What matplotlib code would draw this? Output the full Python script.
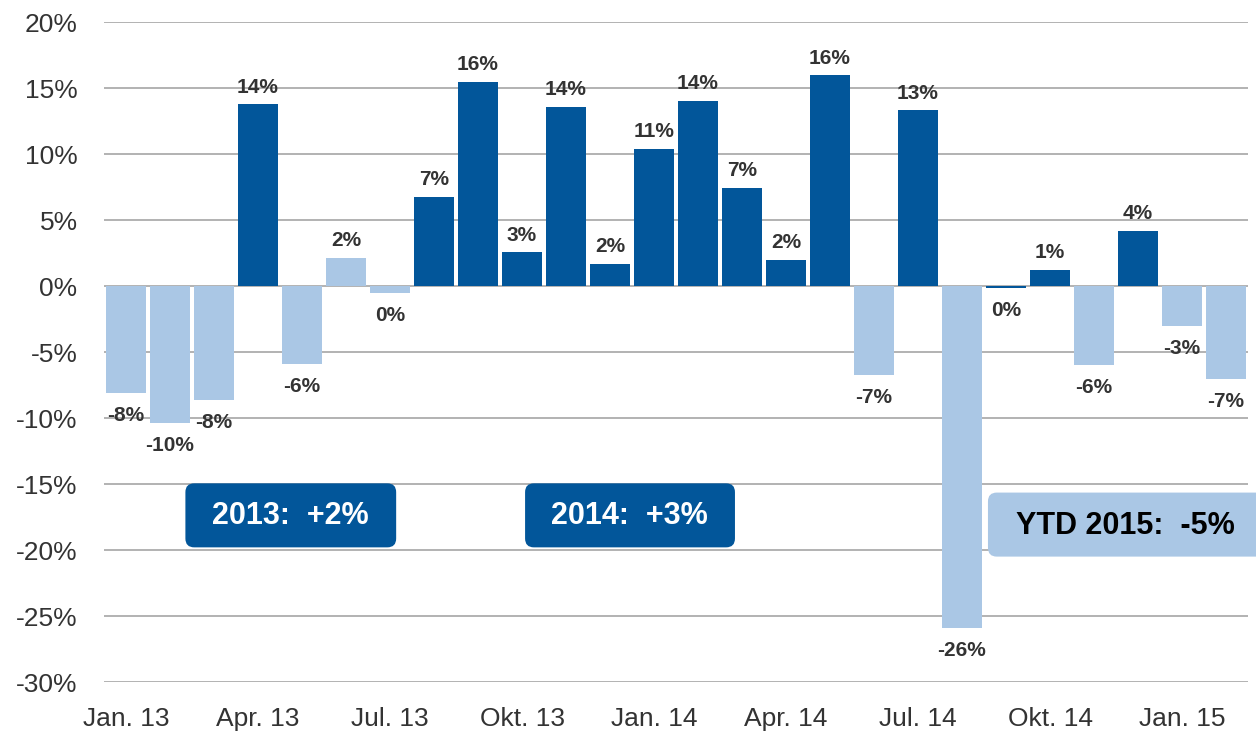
import matplotlib
matplotlib.use("Agg")
import matplotlib.pyplot as plt
from matplotlib.patches import FancyBboxPatch
import numpy as np

plt.rcParams['font.family'] = ['Liberation Sans', 'DejaVu Sans']

months = ["Jan. 13", "Feb. 13", "Mrz. 13", "Apr. 13", "Mai. 13", "Jun. 13",
          "Jul. 13", "Aug. 13", "Sep. 13", "Okt. 13", "Nov. 13", "Dez. 13",
          "Jan. 14", "Feb. 14", "Mrz. 14", "Apr. 14", "Mai. 14", "Jun. 14",
          "Jul. 14", "Aug. 14", "Sep. 14", "Okt. 14", "Nov. 14", "Dez. 14",
          "Jan. 15", "Feb. 15"]
values = [-8.1, -10.35, -8.6, 13.75, -5.9, 2.1, -0.5, 6.75, 15.45, 2.55, 13.55, 1.65,
          10.4, 14.0, 7.45, 1.95, 15.95, -6.75, 13.3, -25.9, -0.15, 1.25, -5.95, 4.2,
          -3.0, -7.05]
labels = ["-8%", "-10%", "-8%", "14%", "-6%", "2%", "0%", "7%", "16%", "3%", "14%", "2%",
          "11%", "14%", "7%", "2%", "16%", "-7%", "13%", "-26%", "0%", "1%", "-6%", "4%",
          "-3%", "-7%"]
# 1 = dark blue, 0 = light blue
dark = [0, 0, 0, 1, 0, 0, 0, 1, 1, 1, 1, 1,
        1, 1, 1, 1, 1, 0, 1, 0, 1, 1, 0, 1,
        0, 0]
tick_every = 3
yticks = [20, 15, 10, 5, 0, -5, -10, -15, -20, -25, -30]

summary_texts = ["2013:  +2%", "2014:  +3%", "YTD 2015:  -5%"]

DARK = '#02569A'
LIGHT = '#AAC7E5'
TXT = '#333333'

fig = plt.figure(figsize=(12.56, 7.33), dpi=100)
ax = fig.add_axes([104/1256, 1-682/733, (1248-104)/1256, (682-22)/733])

x = np.arange(len(values))
colors = [DARK if d else LIGHT for d in dark]
ax.bar(x, values, width=0.9, color=colors, zorder=3)

for xi, v, lab in zip(x, values, labels):
    if v >= 0:
        ax.annotate(lab, (xi, v), xytext=(0, 8.5), textcoords='offset points',
                    ha='center', va='baseline', fontsize=15, fontweight='bold',
                    color=TXT, zorder=4)
    else:
        ax.annotate(lab, (xi, v), xytext=(0, -9.5), textcoords='offset points',
                    ha='center', va='top', fontsize=15, fontweight='bold',
                    color=TXT, zorder=4)

ax.set_xlim(-0.5, len(values) - 0.5)
ax.set_ylim(-30, 20)
ax.set_yticks(yticks)
ax.set_yticklabels([f"{t}%" for t in yticks])
ax.set_xticks(x[::tick_every])
ax.set_xticklabels(months[::tick_every])
ax.tick_params(axis='both', length=0, labelsize=19, labelcolor=TXT)
ax.tick_params(axis='y', pad=19)
ax.tick_params(axis='x', pad=18)
ax.yaxis.grid(True, color='#A6A6A6', linewidth=1.2, zorder=0)
ax.set_axisbelow(True)
for s in ax.spines.values():
    s.set_visible(False)

asp = 44 / 13.2
boxes = [
    (1.35, -19.8, 4.79, 4.85, DARK, 'white', 3.74, -17.4),
    (9.07, -19.8, 4.77, 4.85, DARK, 'white', 11.45, -17.4),
    (19.59, -20.5, 6.3, 4.85, LIGHT, 'black', 22.72, -18.15),
]
for (bx, by, bw, bh, fc, tc, tx, ty), txt in zip(boxes, summary_texts):
    p = FancyBboxPatch((bx, by), bw, bh, boxstyle='round,pad=0,rounding_size=0.2',
                       mutation_aspect=asp, fc=fc, ec='none', zorder=5, clip_on=False)
    ax.add_patch(p)
    ax.text(tx, ty, txt, ha='center', va='center', fontsize=22, fontweight='bold',
            color=tc, zorder=6, clip_on=False)

fig.savefig('out.png', dpi=100)
